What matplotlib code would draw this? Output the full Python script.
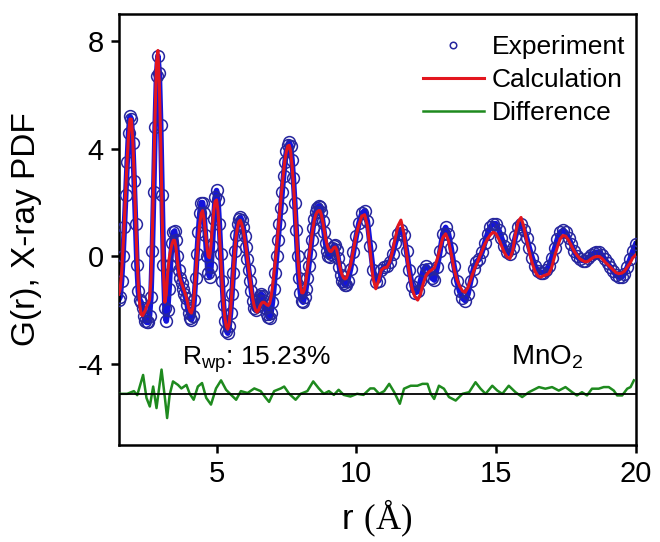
import matplotlib.pyplot as plt

# fonts: Arial-like sans for everything, Times-like serif only for the "(Å)"
plt.rcParams['font.family'] = ['Liberation Sans', 'DejaVu Sans']
plt.rcParams['mathtext.fontset'] = 'custom'
plt.rcParams['mathtext.rm'] = 'Liberation Serif'
plt.rcParams['mathtext.sf'] = 'Liberation Sans'
plt.rcParams['axes.unicode_minus'] = False

# r grid (Angstrom)
r_fit = [
    1.50, 1.55, 1.60, 1.65, 1.70, 1.75, 1.80, 1.85, 1.90, 1.95,
    2.00, 2.05, 2.10, 2.15, 2.20, 2.25, 2.30, 2.35, 2.40, 2.45,
    2.50, 2.55, 2.60, 2.65, 2.70, 2.75, 2.80, 2.85, 2.90, 2.95,
    3.00, 3.05, 3.10, 3.15, 3.20, 3.25, 3.30, 3.35, 3.40, 3.45,
    3.50, 3.55, 3.60, 3.65, 3.70, 3.75, 3.80, 3.85, 3.90, 3.95,
    4.00, 4.05, 4.10, 4.15, 4.20, 4.25, 4.30, 4.35, 4.40, 4.45,
    4.50, 4.55, 4.60, 4.65, 4.70, 4.75, 4.80, 4.85, 4.90, 4.95,
    5.00, 5.05, 5.10, 5.15, 5.20, 5.25, 5.30, 5.35, 5.40, 5.45,
    5.50, 5.55, 5.60, 5.65, 5.70, 5.75, 5.80, 5.85, 5.90, 5.95,
    6.00, 6.05, 6.10, 6.15, 6.20, 6.25, 6.30, 6.35, 6.40, 6.45,
    6.50, 6.55, 6.60, 6.65, 6.70, 6.75, 6.80, 6.85, 6.90, 6.95,
    7.00, 7.05, 7.10, 7.15, 7.20, 7.25, 7.30, 7.35, 7.40, 7.45,
    7.50, 7.55, 7.60, 7.65, 7.70, 7.75, 7.80, 7.85, 7.90, 7.95,
    8.00, 8.05, 8.10, 8.15, 8.20, 8.25, 8.30, 8.35, 8.40, 8.45,
    8.50, 8.55, 8.60, 8.65, 8.70, 8.75, 8.80, 8.85, 8.90, 8.95,
    9.00, 9.05, 9.10, 9.15, 9.20, 9.25, 9.30, 9.35, 9.40, 9.45,
    9.50, 9.55, 9.60, 9.65, 9.70,
    9.8, 9.9, 10.0, 10.1, 10.2, 10.3, 10.4, 10.5, 10.6, 10.7,
    10.8, 10.9, 11.0, 11.1, 11.2, 11.3, 11.4, 11.5, 11.6, 11.7,
    11.8, 11.9, 12.0, 12.1, 12.2, 12.3, 12.4, 12.5, 12.6, 12.7,
    12.8, 12.9, 13.0, 13.1, 13.2, 13.3, 13.4, 13.5, 13.6, 13.7,
    13.8, 13.9, 14.0, 14.1, 14.2, 14.3, 14.4, 14.5, 14.6, 14.7,
    14.8, 14.9, 15.0, 15.1, 15.2, 15.3, 15.4, 15.5, 15.6, 15.7,
    15.8, 15.9, 16.0, 16.1, 16.2, 16.3, 16.4, 16.5, 16.6, 16.7,
    16.8, 16.9, 17.0, 17.1, 17.2, 17.3, 17.4, 17.5, 17.6, 17.7,
    17.8, 17.9, 18.0, 18.1, 18.2, 18.3, 18.4, 18.5, 18.6, 18.7,
    18.8, 18.9, 19.0, 19.1, 19.2, 19.3, 19.4, 19.5, 19.6, 19.7,
    19.8, 19.9, 20.0,
]

# measured G(r) (open circles)
g_exp = [
    -1.6, -1.5, -0.9, 0.0, 1.1, 2.3, 3.5, 4.6, 5.2, 5.1,
    4.2, 2.8, 1.2, -0.3, -1.3, -1.6, -1.7, -1.9, -2.2, -2.4,
    -2.45, -2.45, -2.2, -1.5, 0.2, 2.4, 4.8, 6.7, 7.45, 6.8,
    4.9, 2.3, -0.3, -1.9, -2.4, -2.0, -1.2, -0.3, 0.5, 0.9,
    0.95, 0.6, 0.0, -0.5, -0.8, -1.0, -1.2, -1.4, -1.55, -1.8,
    -2.1, -2.3, -2.35, -2.2, -1.6, -0.8, 0.1, 0.9, 1.6, 2.0,
    2.0, 1.6, 0.8, 0.0, -0.6, -0.75, -0.4, 0.4, 1.4, 2.2,
    2.45, 2.1, 1.2, 0.1, -0.9, -1.8, -2.4, -2.75, -2.85, -2.6,
    -2.1, -1.4, -0.6, 0.2, 0.8, 1.2, 1.4, 1.46, 1.35, 1.1,
    0.75, 0.35, -0.1, -0.5, -0.9, -1.3, -1.65, -1.9, -2.0, -1.85,
    -1.6, -1.45, -1.4, -1.45, -1.65, -1.9, -2.15, -2.25, -2.3, -2.1,
    -1.7, -1.2, -0.6, 0.0, 0.6, 1.2, 1.8, 2.4, 3.0, 3.5,
    3.9, 4.15, 4.25, 4.1, 3.6, 2.9, 2.0, 1.0, 0.0, -0.8,
    -1.35, -1.65, -1.7, -1.5, -1.2, -0.8, -0.35, 0.1, 0.6, 1.05,
    1.4, 1.65, 1.8, 1.88, 1.85, 1.65, 1.3, 0.9, 0.5, 0.2,
    0.0, -0.02, 0.1, 0.3, 0.4, 0.41, 0.25, -0.05, -0.4, -0.7,
    -0.9, -1.0, -1.07, -1.05, -0.9,
    -0.45, 0.15, 0.75, 1.25, 1.6, 1.7, 1.3, 0.4, -0.5, -0.95,
    -0.9, -0.5, -0.4, -0.35, -0.2, 0.1, 0.5, 0.85, 1.0, 0.8,
    0.2, -0.5, -1.1, -1.35, -1.3, -0.9, -0.5, -0.35, -0.45, -0.8,
    -0.88, -0.4, 0.2, 0.85, 1.08, 0.85, 0.3, -0.35, -0.9, -1.3,
    -1.55, -1.64, -1.4, -0.9, -0.45, -0.2, -0.1, 0.15, 0.5, 0.85,
    1.1, 1.22, 1.22, 1.0, 0.7, 0.4, 0.15, 0.1, 0.3, 0.75,
    1.1, 1.2, 1.0, 0.7, 0.3, -0.05, -0.35, -0.55, -0.6, -0.6,
    -0.5, -0.35, -0.05, 0.3, 0.65, 0.9, 0.97, 0.9, 0.7, 0.45,
    0.2, 0.0, -0.1, -0.15, -0.15, -0.05, 0.05, 0.12, 0.16, 0.16,
    0.05, -0.1, -0.25, -0.4, -0.55, -0.7, -0.77, -0.77, -0.65, -0.4,
    -0.1, 0.2, 0.45,
]

# fitted G(r) (red line)
g_calc = [
    -1.4, -1.2, -0.6, 0.3, 1.3, 2.5, 3.6, 4.5, 5.1, 5.1,
    4.3, 3.0, 1.5, 0.0, -1.1, -1.8, -2.15, -2.2, -2.1, -2.0,
    -1.85, -1.75, -1.6, -0.9, 0.8, 3.0, 5.3, 7.2, 7.65, 6.4,
    4.3, 1.6, -0.6, -1.7, -1.4, -0.6, -0.1, 0.2, 0.45, 0.6,
    0.6, 0.3, -0.2, -0.6, -0.85, -1.0, -1.15, -1.3, -1.45, -1.65,
    -1.9, -2.05, -2.1, -1.9, -1.4, -0.7, 0.0, 0.7, 1.25, 1.6,
    1.7, 1.4, 0.9, 0.4, 0.0, -0.05, 0.4, 1.1, 1.7, 2.05,
    2.1, 1.7, 0.9, -0.1, -1.0, -1.8, -2.3, -2.6, -2.7, -2.5,
    -2.0, -1.3, -0.5, 0.2, 0.75, 1.1, 1.3, 1.34, 1.2, 1.0,
    0.7, 0.35, -0.05, -0.45, -0.85, -1.25, -1.6, -1.85, -2.0, -2.07,
    -2.0, -1.85, -1.75, -1.7, -1.7, -1.75, -1.8, -1.82, -1.75, -1.5,
    -1.15, -0.7, -0.2, 0.35, 0.9, 1.5, 2.1, 2.65, 3.15, 3.6,
    3.9, 4.1, 4.13, 3.9, 3.4, 2.7, 1.9, 1.0, 0.1, -0.6,
    -1.1, -1.35, -1.35, -1.2, -0.9, -0.5, -0.1, 0.3, 0.7, 1.05,
    1.35, 1.55, 1.65, 1.7, 1.7, 1.55, 1.3, 1.0, 0.7, 0.45,
    0.3, 0.2, 0.18, 0.25, 0.33, 0.35, 0.25, 0.0, -0.3, -0.55,
    -0.7, -0.8, -0.83, -0.8, -0.65,
    -0.3, 0.25, 0.8, 1.2, 1.5, 1.55, 1.15, 0.2, -0.8, -1.2,
    -0.9, -0.5, -0.42, -0.4, -0.2, 0.2, 0.7, 1.15, 1.35, 0.9,
    0.1, -0.6, -1.2, -1.5, -1.62, -1.4, -1.0, -0.7, -0.57, -0.5,
    -0.42, -0.1, 0.3, 0.7, 0.84, 0.6, 0.1, -0.45, -0.85, -1.1,
    -1.28, -1.33, -1.15, -0.85, -0.55, -0.3, -0.05, 0.2, 0.45, 0.65,
    0.8, 0.9, 0.85, 0.65, 0.4, 0.15, -0.02, -0.08, 0.2, 0.85,
    1.3, 1.45, 1.1, 0.6, 0.15, -0.25, -0.55, -0.72, -0.77, -0.72,
    -0.68, -0.64, -0.4, 0.0, 0.35, 0.65, 0.78, 0.75, 0.6, 0.4,
    0.2, 0.05, -0.08, -0.15, -0.2, -0.18, -0.1, -0.03, 0.0, 0.0,
    -0.08, -0.2, -0.3, -0.4, -0.5, -0.6, -0.64, -0.62, -0.55, -0.4,
    -0.25, -0.05, 0.05,
]

# difference curve, drawn shifted down by diff_offset
diff_offset = -5.1
r_diff = [
    1.54, 1.80, 2.04, 2.16, 2.37, 2.49, 2.61, 2.73, 2.85, 3.03,
    3.15, 3.23, 3.32, 3.44, 3.62, 3.74, 3.92, 4.04, 4.18, 4.33,
    4.48, 4.63, 4.80, 4.98, 5.16, 5.34, 5.52, 5.70, 5.87, 6.11,
    6.35, 6.58, 6.76, 6.88, 7.06, 7.30, 7.42, 7.60, 7.83, 8.01,
    8.25, 8.46, 8.66, 8.84, 9.02, 9.20, 9.37, 9.55, 9.79, 10.03,
    10.26, 10.50, 10.64, 10.82, 11.00, 11.18, 11.36, 11.56, 11.71, 11.95,
    12.19, 12.37, 12.55, 12.67, 12.79, 12.96, 13.14, 13.32, 13.56, 13.80,
    14.04, 14.27, 14.45, 14.63, 14.87, 15.05, 15.23, 15.46, 15.70, 15.94,
    16.18, 16.54, 16.77, 17.01, 17.25, 17.49, 17.73, 17.90, 18.08, 18.26,
    18.44, 18.68, 18.86, 19.04, 19.22, 19.34, 19.52, 19.70, 19.82, 19.94,
]
g_diff = [
    0.0, 0.0, 0.1, -0.05, 0.7, -0.15, -0.47, 0.27, -0.53, 0.9,
    -0.15, -0.9, -0.04, 0.46, 0.33, 0.2, 0.33, 0.0, -0.22, 0.27,
    0.4, -0.15, -0.4, 0.2, 0.5, 0.15, -0.04, -0.22, 0.1, 0.03,
    0.2, 0.1, -0.15, -0.3, 0.1, 0.2, 0.27, 0.0, -0.22, 0.0,
    0.1, 0.46, 0.2, 0.0, 0.1, -0.04, 0.15, -0.04, -0.1, 0.0,
    -0.04, 0.2, 0.2, 0.0, 0.1, 0.37, 0.06, -0.37, 0.19, 0.3,
    0.3, 0.37, 0.37, 0.0, -0.19, 0.3, 0.19, -0.12, -0.25, 0.0,
    0.06, 0.43, 0.19, 0.0, 0.3, 0.12, 0.0, 0.3, 0.06, -0.12,
    0.06, 0.25, 0.19, 0.25, 0.12, 0.25, 0.06, -0.06, 0.06, -0.06,
    0.19, 0.19, 0.25, 0.25, 0.12, -0.06, -0.06, 0.19, 0.25, 0.5,
]

assert len(r_fit) == len(g_exp) == len(g_calc)
assert len(r_diff) == len(g_diff)

blue = '#1414dc'
navy = '#26269e'
red = '#e3161e'
green = '#1e8a1e'

fig = plt.figure(figsize=(6.6, 5.42), dpi=100)
ax = fig.add_axes([0.180, 0.179, 0.783, 0.795])

# blue trace behind the circles so the band looks as dense as the original
ax.plot(r_fit, g_exp, color=blue, lw=4, zorder=2)
ax.plot(r_fit, g_exp, 'o', ms=8.5, mfc='none', mec=navy, mew=1.1,
        label='Experiment', zorder=3)
ax.plot(r_fit, g_calc, color=red, lw=2.2, label='Calculation', zorder=4)
ax.plot(r_diff, [d + diff_offset for d in g_diff], color=green, lw=1.8,
        label='Difference', zorder=4)
ax.axhline(diff_offset, color='black', lw=1.3, zorder=5)

ax.set_xlim(1.5, 20)
ax.set_ylim(-7, 9)
ax.set_xticks([5, 10, 15, 20])
ax.set_yticks([-4, 0, 4, 8])

for side in ax.spines.values():
    side.set_linewidth(1.8)
ax.tick_params(direction='out', length=5.8, width=1.8, labelsize=21,
               top=False, right=False, pad=5)

ax.set_xlabel(r'$\mathsf{r\ }\mathrm{(Å)}$', fontsize=25, labelpad=7)
ax.set_ylabel('G(r), X-ray PDF', fontsize=24, labelpad=26)

ax.text(3.75, -4.0, r'R$_\mathregular{wp}$: 15.23%', fontsize=19, va='baseline')
ax.text(15.53, -4.0, r'MnO$_\mathregular{2}$', fontsize=20, va='baseline')

ax.legend(loc='upper right', bbox_to_anchor=(1.0, 0.976), frameon=False,
          fontsize=19, handlelength=2.3, handletextpad=0.3, labelspacing=0.34,
          borderpad=0.2, borderaxespad=0.2, numpoints=1, markerscale=0.55)

fig.savefig('out.png', dpi=100)
